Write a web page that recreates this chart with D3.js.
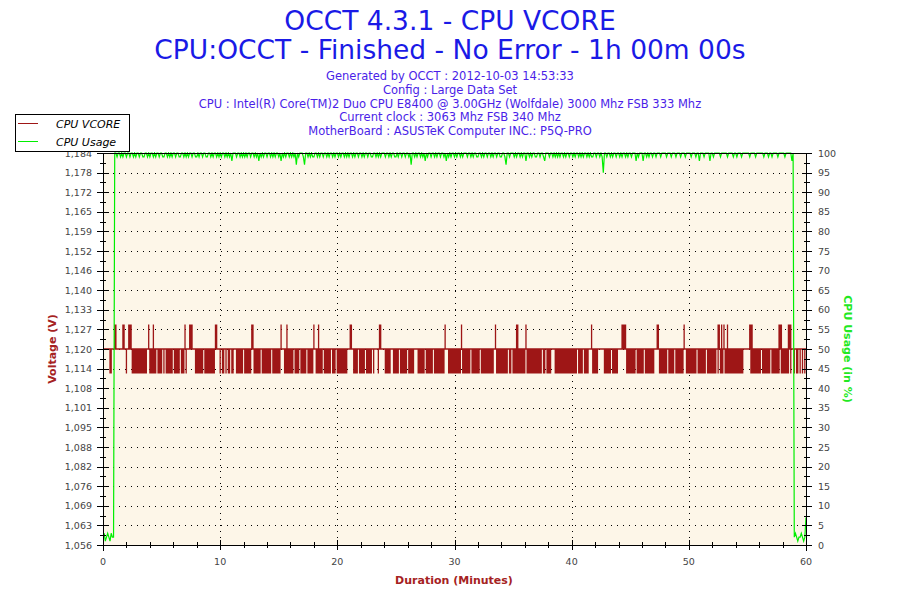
<!DOCTYPE html>
<html><head><meta charset="utf-8">
<script src="https://cdn.jsdelivr.net/npm/d3@7"></script>
<style>body{margin:0;background:#fff}svg{display:block}</style>
</head><body><svg id="c" width="900" height="600"></svg>
<script>
// ---------- data ----------
const titleLines = ["OCCT 4.3.1 - CPU VCORE", "CPU:OCCT - Finished - No Error - 1h 00m 00s"];
const infoLines = [
  "Generated by OCCT : 2012-10-03 14:53:33",
  "Config : Large Data Set",
  "CPU : Intel(R) Core(TM)2 Duo CPU E8400 @ 3.00GHz (Wolfdale) 3000 Mhz FSB 333 Mhz",
  "Current clock : 3063 Mhz FSB 340 Mhz",
  "MotherBoard : ASUSTeK Computer INC.: P5Q-PRO"
];
const seriesNames = ["CPU VCORE", "CPU Usage"];
const xTickValues = [0, 10, 20, 30, 40, 50, 60];
const voltageTickLabels = ["1,056","1,063","1,069","1,076","1,082","1,088","1,095","1,101","1,108","1,114",
  "1,120","1,127","1,133","1,140","1,146","1,152","1,159","1,165","1,172","1,178","1,184"];
const usageTickLabels = ["0","5","10","15","20","25","30","35","40","45","50","55","60","65","70","75","80","85","90","95","100"];
// voltage levels visited in each 0.1-minute sample: m = 1.120 only, l = dips to 1.112, h = spikes to 1.128, a = both
const vcoreLevelMap = { m: [1.120], l: [1.120, 1.112, 1.120], h: [1.120, 1.128, 1.120], a: [1.120, 1.128, 1.112, 1.120] };
// one string per 10 minutes, one character per 0.1 minute
const vcoreSamples = [
  "mmmmmmllmm" + "hhmmmmmhhm" + "lmhhhlllll" + "llllllllmh" + "lllallmlll" + "lmlmllllll" + "mlllllmlll" + "hlmmhhhmml" + "llllllmlll" + "llllllhhmm",
  "lmllmlmllm" + "llmmllllll" + "mllllllhhl" + "lllllmllll" + "llllmlllll" + "llhmmllall" + "lllmllllml" + "llllmlllll" + "hmllalllml" + "lllllmlllm",
  "lllllllllm" + "mhhmllllml" + "llllmlllll" + "mlmmmlhhmm" + "mlllllmmll" + "lllmllllll" + "mlllllmmml" + "lllllmllll" + "llmlllllll" + "llhmmlllll",
  "llllllhlll" + "llllmlllll" + "llmlllllll" + "llllmhllll" + "llllllmllm" + "lllaalllll" + "lhllllllll" + "lllllmllml" + "lllmmmllll" + "llllllllll",
  "lllllmllll" + "mllllmmhll" + "lllmmmmmll" + "llllmlllll" + "mmmhhhhlll" + "lllllmllll" + "llmlllllll" + "lmmhhlllll" + "llmlllllml" + "llllllhmll",
  "lllllllmll" + "lllllmllll" + "llllmahlal" + "hllallllll" + "lllllllmmm" + "mmhaalllll" + "llmlllllll" + "mllllllaha" + "lllllahamm" + "lmllmlmlml" + "m"
];
// CPU usage per 0.1 minute: digit d = 100 - d %, letter = idle value (a=1, b=2, c=3, g=7)
const cpuSamples = [
  "bcabcbacbb" + "0010010100" + "1001001010" + "0100110010" + "1001010010" + "0110010101" + "0010011001" + "0101001001" + "1010010011" + "0010100101",
  "0100101010" + "2000100101" + "0101001001" + "0102010100" + "1001010100" + "1020101001" + "0101030100" + "0130010101" + "1001010010" + "0101001010",
  "0101001010" + "1001010010" + "0101001001" + "1001010100" + "0100101001" + "1010010010" + "0103001010" + "0101020100" + "1001010010" + "0102010100",
  "1010010100" + "0100101001" + "1001010010" + "0101001001" + "1001300100" + "0101001010" + "0200101001" + "1001001200" + "0100101010" + "1001010010",
  "0101001010" + "1001010110" + "0100101500" + "1001010010" + "0101001010" + "0100020100" + "0200101001" + "0010001000" + "0100010001" + "0001000100",
  "0010001002" + "0001000020" + "0100000100" + "0001000010" + "0100010000" + "0010000100" + "0000100010" + "0100001000" + "0010000020" + "bcbabbcbab" + "g"
];

// ---------- build point lists ----------
const vcorePoints = [];
vcoreSamples.forEach((s, k) => {
  [...s].forEach((ch, i) => {
    const t = k * 10 + i * 0.1;
    vcoreLevelMap[ch].forEach(v => vcorePoints.push([t, v]));
  });
});
const cpuPoints = [];
cpuSamples.forEach((s, k) => {
  [...s].forEach((ch, i) => {
    const t = k * 10 + i * 0.1;
    const v = /[0-9]/.test(ch) ? 100 - (+ch) : ch.charCodeAt(0) - 96;
    cpuPoints.push([t, v]);
  });
});

// ---------- layout ----------
const svg = d3.select("#c");
const L = 103, R = 806, T = 153, B = 545;
const x = d3.scaleLinear().domain([0, 60]).range([L, R]);
const yV = d3.scaleLinear().domain([1.056, 1.184]).range([B, T]);
const yC = d3.scaleLinear().domain([0, 100]).range([B, T]);
const vTicks = voltageTickLabels.map((_, i) => 1.056 + i * 0.0064);
const cTicks = usageTickLabels.map(s => +s);
const FONT = "DejaVu Sans, Verdana, sans-serif";
const VCOL = "#9e1616", CCOL = "#00ee00";

// titles
svg.selectAll("text.title").data(titleLines).join("text")
  .attr("x", 450).attr("y", (d, i) => i === 0 ? 30 : 59)
  .attr("text-anchor", "middle").attr("font-family", FONT)
  .attr("font-size", 26.5).attr("fill", "#1a1ae6").text(d => d);
svg.selectAll("text.info").data(infoLines).join("text")
  .attr("x", 450).attr("y", (d, i) => 80 + i * 13.8)
  .attr("text-anchor", "middle").attr("font-family", FONT)
  .attr("font-size", 11.5).attr("fill", "#4a1ee8").text(d => d);

// plot background
svg.append("rect").attr("x", L).attr("y", T).attr("width", R - L).attr("height", B - T).attr("fill", "#fdf6e8");

// grid
const g = svg.append("g").attr("stroke", "#000").attr("stroke-dasharray", "1,5").attr("stroke-width", 1);
g.selectAll("line.h").data(vTicks.slice(1, -1)).join("line")
  .attr("x1", L + 10).attr("x2", R).attr("y1", d => Math.round(yV(d)) + 0.5).attr("y2", d => Math.round(yV(d)) + 0.5);
g.selectAll("line.v").data(xTickValues.slice(1, -1)).join("line")
  .attr("y1", T).attr("y2", B).attr("x1", d => Math.round(x(d)) + 0.5).attr("x2", d => Math.round(x(d)) + 0.5);

// series
svg.append("clipPath").attr("id", "pc").append("rect").attr("x", L).attr("y", T - 1).attr("width", R - L).attr("height", B - T + 1);
svg.append("path").datum(vcorePoints).attr("clip-path", "url(#pc)")
  .attr("fill", "none").attr("stroke", VCOL).attr("stroke-width", 1.3)
  .attr("d", d3.line().x(d => x(d[0])).y(d => yV(d[1])));
svg.append("path").datum(cpuPoints).attr("clip-path", "url(#pc)")
  .attr("fill", "none").attr("stroke", CCOL).attr("stroke-width", 1.2)
  .attr("d", d3.line().x(d => x(d[0])).y(d => yC(d[1])));

// axes frame
const ax = svg.append("g").attr("stroke", "#000").attr("stroke-width", 1).attr("shape-rendering", "crispEdges");
ax.append("line").attr("x1", L).attr("x2", L).attr("y1", T).attr("y2", B + 6);
ax.append("line").attr("x1", R).attr("x2", R).attr("y1", T).attr("y2", B + 6);
ax.append("line").attr("x1", L).attr("x2", R + 6).attr("y1", B).attr("y2", B);
ax.append("line").attr("x1", L).attr("x2", R + 6).attr("y1", T).attr("y2", T);

// left ticks
ax.selectAll("line.lt").data(vTicks).join("line")
  .attr("x1", L - 6).attr("x2", L + 6).attr("y1", d => Math.round(yV(d))).attr("y2", d => Math.round(yV(d)));
ax.selectAll("line.lm").data(vTicks.slice(0, -1)).join("line")
  .attr("x1", L - 3).attr("x2", L + 3).attr("y1", d => Math.round(yV(d + 0.0032))).attr("y2", d => Math.round(yV(d + 0.0032)));
// right ticks
ax.selectAll("line.rt").data(cTicks).join("line")
  .attr("x1", R - 4).attr("x2", R + 6).attr("y1", d => Math.round(yC(d))).attr("y2", d => Math.round(yC(d)));
ax.selectAll("line.rm").data(cTicks.slice(0, -1)).join("line")
  .attr("x1", R - 2).attr("x2", R + 4).attr("y1", d => Math.round(yC(d + 2.5))).attr("y2", d => Math.round(yC(d + 2.5)));
// bottom ticks
ax.selectAll("line.bt").data(xTickValues).join("line")
  .attr("x1", d => Math.round(x(d))).attr("x2", d => Math.round(x(d))).attr("y1", B - 5).attr("y2", B + 5);
ax.selectAll("line.bm").data(d3.range(0, 60, 2).filter(v => v % 10 !== 0)).join("line")
  .attr("x1", d => Math.round(x(d))).attr("x2", d => Math.round(x(d))).attr("y1", B - 3).attr("y2", B + 3);

// tick labels
const TL = "#444";
svg.selectAll("text.yl").data(vTicks).join("text")
  .attr("x", 92).attr("y", d => yV(d) + 3.5).attr("text-anchor", "end")
  .attr("font-family", FONT).attr("font-size", 9.5).attr("fill", TL).text((d, i) => voltageTickLabels[i]);
svg.selectAll("text.yr").data(cTicks).join("text")
  .attr("x", 818).attr("y", d => yC(d) + 3.5).attr("text-anchor", "start")
  .attr("font-family", FONT).attr("font-size", 9.5).attr("fill", TL).text((d, i) => usageTickLabels[i]);
svg.selectAll("text.xl").data(xTickValues).join("text")
  .attr("x", d => x(d)).attr("y", 565).attr("text-anchor", "middle")
  .attr("font-family", FONT).attr("font-size", 9.5).attr("fill", TL).text(d => d);

// axis titles
svg.append("text").attr("x", 454).attr("y", 584).attr("text-anchor", "middle")
  .attr("font-family", FONT).attr("font-size", 11).attr("font-weight", "bold").attr("fill", "#a52222").text("Duration (Minutes)");
svg.append("text").attr("transform", "translate(56,349) rotate(-90)").attr("text-anchor", "middle")
  .attr("font-family", FONT).attr("font-size", 11).attr("font-weight", "bold").attr("fill", "#a52222").text("Voltage (V)");
svg.append("text").attr("transform", "translate(844,349) rotate(90)").attr("text-anchor", "middle")
  .attr("font-family", FONT).attr("font-size", 11).attr("font-weight", "bold").attr("fill", "#22e822").text("CPU Usage (in %)");

// legend
const lg = svg.append("g");
lg.append("rect").attr("x", 15.5).attr("y", 114.5).attr("width", 114).attr("height", 37)
  .attr("fill", "#fff").attr("stroke", "#000");
lg.selectAll("line").data(seriesNames).join("line")
  .attr("x1", 18).attr("x2", 38).attr("y1", (d, i) => 123.5 + i * 18).attr("y2", (d, i) => 123.5 + i * 18)
  .attr("stroke", (d, i) => i === 0 ? VCOL : CCOL).attr("stroke-width", 1);
lg.selectAll("text").data(seriesNames).join("text")
  .attr("x", 56).attr("y", (d, i) => 127.5 + i * 18)
  .attr("font-family", FONT).attr("font-size", 11).attr("font-style", "italic").attr("fill", "#000").text(d => d);
</script></body></html>
